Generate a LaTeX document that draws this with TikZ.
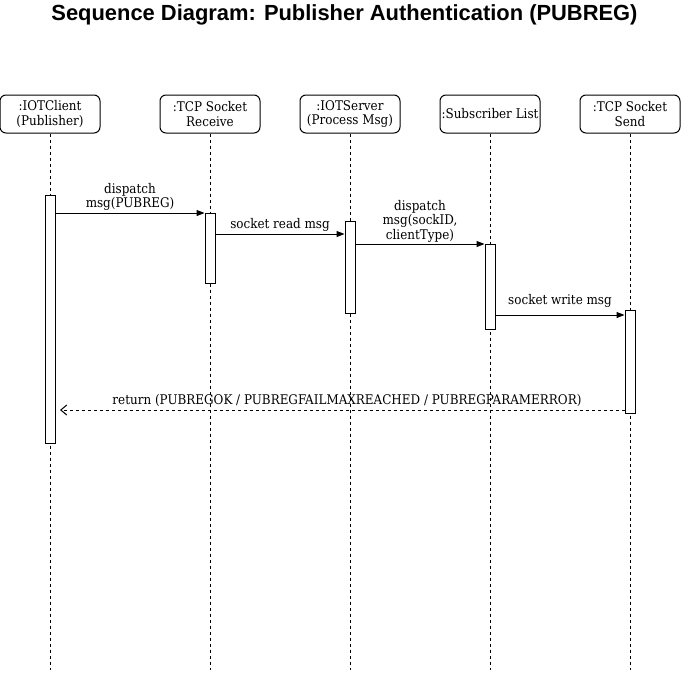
\documentclass[tikz,border=0pt]{standalone}
\usepackage{fontspec}
\setmainfont{DejaVu Serif Condensed}
\newfontfamily\titlefont{Liberation Sans}
\usetikzlibrary{arrows.meta}
\begin{document}
\begin{tikzpicture}[x=1pt,y=-1pt,line width=1pt,
  actor/.style={draw,rounded corners=6pt,minimum width=100pt,minimum height=38pt,align=center,font=\fontsize{13.3}{14.5}\selectfont,inner sep=1pt},
  life/.style={dashed,dash pattern=on 3pt off 3pt},
  act/.style={draw,fill=white,minimum width=10pt,inner sep=0pt},
  msg/.style={-{Triangle[length=8pt,width=6pt]}},
  ret/.style={dashed,dash pattern=on 3pt off 3pt,-{Straight Barb[length=6pt,width=10pt]}},
  lbl/.style={font=\fontsize{13.3}{14.5}\selectfont,align=center,inner sep=0pt}]
\useasboundingbox (0,0) rectangle (681,675);
\node[font=\titlefont\bfseries\fontsize{21.9}{26}\selectfont] (title) at (344.5,15) {Sequence Diagram: Publisher Authentication (PUBREG)};
\node[actor] (a1) at (50,114) {:IOTClient\\(Publisher)};
\node[actor] (a2) at (210,114) {:TCP Socket\\Receive};
\node[actor] (a3) at (350,114) {:IOTServer\\(Process Msg)};
\node[actor] (a4) at (490,114) {:Subscriber List};
\node[actor] (a5) at (630,114) {:TCP Socket\\Send};
\foreach \i/\x in {1/50,2/210,3/350,4/490,5/630}{
  \coordinate (e\i) at (\x,670);
  \draw[life] (a\i.south) -- (e\i);
}
\node[act,minimum height=248pt] (b1) at (50,319) {};
\node[act,minimum height=70pt] (b2) at (210,248) {};
\node[act,minimum height=92pt] (b3) at (350,267) {};
\node[act,minimum height=85pt] (b4) at (490,286.5) {};
\node[act,minimum height=103pt] (b5) at (630,361.5) {};
% messages
\draw[msg] (b1.east |- 0,213) -- (b2.west |- 0,213);
\node[lbl] (l1) at (130,197) {dispatch\\msg(PUBREG)};
\draw[msg] (b2.east |- 0,234) -- (b3.west |- 0,234);
\node[lbl] (l2) at (280,225) {socket read msg};
\draw[msg] (b3.east |- 0,244) -- (b4.west |- 0,244);
\node[lbl] (l3) at (420,221) {dispatch\\msg(sockID,\\clientType)};
\draw[msg] (b4.east |- 0,315) -- (b5.west |- 0,315);
\node[lbl] (l4) at (560,301) {socket write msg};
\coordinate (rend) at (60,410);
\draw[ret] (b5.west |- 0,410) -- (rend);
\node[lbl] (l5) at (347,400) {return (PUBREGOK / PUBREGFAILMAXREACHED / PUBREGPARAMERROR)};
\end{tikzpicture}
\end{document}
